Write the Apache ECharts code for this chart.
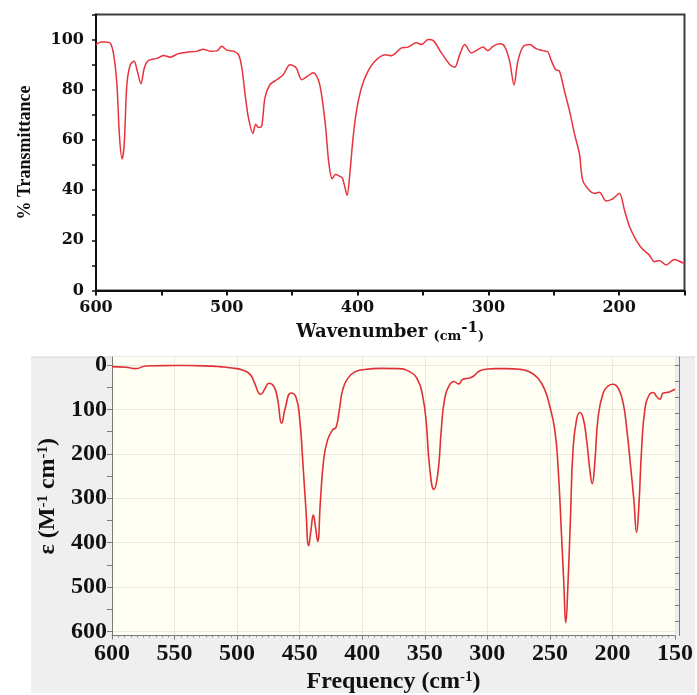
<!DOCTYPE html>
<html><head><meta charset="utf-8">
<script src="https://cdn.jsdelivr.net/npm/echarts@6/dist/echarts.min.js"></script>
<style>html,body{margin:0;padding:0;background:#fff}#c{width:697px;height:695px}</style>
</head><body><div id="c"></div><script>
// ---- Top panel: IR transmittance spectrum ----
const topWavenumber = [600,596,593,589,586.5,584,582,580,578.4,576.4,573.8,570.8,568.7,565.6,563,559.8,553.4,548.4,543.3,537,530.5,523,518,512.7,507.6,503.8,500,495,491,488.5,486,483.5,480,477.9,475.9,473.3,470.8,467,461.8,456.8,451.7,447,442.7,438,433.9,430,427.5,424.4,422,419.4,416.8,413.5,411.7,409.7,408,405.9,403.4,400.8,397,392,386.8,379,374,366.4,361.4,355,351.1,346,342.3,335.9,329.5,325.7,321.9,318,313,308,304,300.3,296.5,291.4,287.6,283.7,280.4,277.4,273.6,268.5,263.4,258.3,254.5,251.9,248.6,245.6,241.8,237.9,234.1,230.3,227.8,222.7,218.8,215,210,204.9,199.8,195.9,192,187,182,176.9,173,169.2,164.1,157.7,151.3,150];
const topTransmittance = [98,99,99,98.5,94,82,61,52.5,58.5,82,90,91.4,88,82.4,88.8,91.7,92.5,93.7,93,94.4,95,95.3,96.2,95.4,95.5,97.3,95.8,95.4,94,88.8,78.2,69,62.6,66.3,65,65.5,76.9,82,84,86,90,88.8,84,85.5,86.8,84,78,65,51,44.5,46.2,45.5,45,41.2,37.9,46.5,61,71.6,80.8,87.4,91.4,94,93.6,96.7,97,98.7,98,100,99.7,94.7,90.1,89,94,98,94.7,96,97,95.6,97.3,98.3,97.3,91.4,81.9,91.4,97,98,96.4,95.6,95.1,91.7,88.1,87.4,79.5,71.6,62.4,54.4,43.9,39.9,38.7,39.2,35.7,36.5,38.8,32,25.4,20.1,16.4,14.1,11.5,12,10.2,12.4,11,10.8];
const topXLabels = [600,500,400,300,200];
const topYLabels = [0,20,40,60,80,100];

// ---- Bottom panel: computed spectrum ----
const bottomFrequency = [600,589,581,573,560,540,520,514,504,496,490,486,483,481,478,474.5,470.5,467.6,464.4,461.5,457,453,450,447.6,445,442.8,440.9,439.1,437.5,435.6,433.5,430.8,427.6,423.6,420.9,418.3,415.6,411.6,406.2,398.2,385,371.6,362.2,355.6,351.6,348.8,346.2,342.7,339.5,336.8,334.2,330.2,326.7,323,319.5,315.5,311.5,306.2,299.5,294,284.8,274.1,266.1,259.5,254.1,250.1,246.1,243.5,240.8,238.9,237.3,235.5,233.5,231.5,228.7,226.1,223.4,220.7,218.1,216.2,214.1,211.4,207.4,203.4,199.4,195.4,191.4,188.2,185.5,182.9,180.7,178.9,176.7,174.1,170.6,167.4,164.7,162.1,159.4,156.7,154.1,150];
const bottomEpsilon = [3.7,5.2,8.2,2.2,1.5,1.2,2.5,3.7,6.7,11.2,20,41,62,66,54.5,41,48.6,78,131,97,63,72,120,213,325,407,370,338,362,397,310,213,168,146,140,101,56,30,16,10,7.5,8.2,15,34,71,131,228,280,243,146,78,45,37,42.6,32,30,26,13.4,9,8.2,8.2,9.7,15.7,30,56,93,146,228,377,489,580,489,340,190,123,107,120,168,235,267,220,116,63,47,43.3,52.3,86,153,228,303,377,318,190,101,67,62,71,77,63,62,60,54.5];
const bottomYLabels = [0,100,200,300,400,500,600];
const bottomYTicks = [0,50,100,150,200,250,300,350,400,450,500,550,600];
const bottomRightTicks = [0,36,72,108,144,180,216,252,288,324,360,396,432,468,504,540,576];

const topData = topWavenumber.map((x,i)=>[x, topTransmittance[i]]);
const bottomData = bottomFrequency.map((x,i)=>[x, bottomEpsilon[i]]);

const serifTop = "'DejaVu Serif', serif";
const serifBot = "'Liberation Serif', 'Times New Roman', serif";

const chart = echarts.init(document.getElementById('c'), null, {renderer:'canvas'});
chart.setOption({
  animation: false,
  backgroundColor: '#ffffff',
  graphic: [
    {type:'rect', z:-100, silent:true, shape:{x:31, y:357, width:664, height:336}, style:{fill:'#efefef'}},
    {type:'line', z:-99, silent:true, shape:{x1:31, y1:357, x2:695, y2:357}, style:{stroke:'#d4d4d4', lineWidth:1}}
  ],
  grid: [
    {left:96, top:14.5, right:12.5, height:276, show:true, borderColor:'#3c3c3c', borderWidth:2, backgroundColor:'#ffffff'},
    {left:112, top:357, right:22, height:280, show:true, borderWidth:0, backgroundColor:'#fffff3'}
  ],
  xAxis: [
    {gridIndex:0, type:'value', min:150, max:600, interval:50, inverse:true,
     axisLine:{show:true, onZero:false, lineStyle:{color:'#111', width:2}},
     axisTick:{show:true, length:5, lineStyle:{color:'#111', width:2}},
     axisLabel:{margin:9, color:'#111', fontFamily:serifTop, fontWeight:'bold', fontSize:16,
       formatter:v=> topXLabels.indexOf(v)>=0 ? String(v) : ''},
     splitLine:{show:false},
     name:'Wavenumber {s|(cm}{sup|-1}{s|)}', nameLocation:'middle', nameGap:30,
     nameTextStyle:{color:'#111', fontFamily:serifTop, fontWeight:'bold', fontSize:18,
       rich:{s:{fontFamily:serifTop, fontWeight:'bold', fontSize:13, color:'#111', verticalAlign:'bottom'},
             sup:{fontFamily:serifTop, fontWeight:'bold', fontSize:15, color:'#111', verticalAlign:'top', padding:[0,0,8,0]}}}
    },
    {gridIndex:1, type:'value', min:150, max:600, interval:50, inverse:true,
     axisLine:{show:true, onZero:false, lineStyle:{color:'#7a7a7a', width:1}},
     axisTick:{show:true, length:4, lineStyle:{color:'#7a7a7a'}},
     minorTick:{show:true, splitNumber:10, length:2, lineStyle:{color:'#8a8a8a'}},
     axisLabel:{margin:6, color:'#111', fontFamily:serifBot, fontWeight:'bold', fontSize:24},
     splitLine:{show:true, lineStyle:{color:'#e9e9dd', width:1}},
     name:'Frequency (cm{sup|-1})', nameLocation:'middle', nameGap:34,
     nameTextStyle:{color:'#111', fontFamily:serifBot, fontWeight:'bold', fontSize:24,
       rich:{sup:{fontFamily:serifBot, fontWeight:'bold', fontSize:15, color:'#111', verticalAlign:'top', padding:[0,0,10,0]}}}
    }
  ],
  yAxis: [
    {gridIndex:0, type:'value', min:0, max:110, interval:10,
     axisLine:{show:true, onZero:false, lineStyle:{color:'#111', width:2}},
     axisTick:{show:true, length:4, lineStyle:{color:'#111', width:1.5}},
     axisLabel:{margin:12, color:'#111', fontFamily:serifTop, fontWeight:'bold', fontSize:16,
       formatter:v=> topYLabels.indexOf(v)>=0 ? String(v) : ''},
     splitLine:{show:false},
     name:'% Transmittance', nameLocation:'middle', nameGap:62,
     nameTextStyle:{color:'#111', fontFamily:serifBot, fontWeight:'bold', fontSize:18}
    },
    {gridIndex:1, type:'value', min:-18, max:609, inverse:true,
     axisLine:{show:true, onZero:false, lineStyle:{color:'#7a7a7a', width:1}},
     axisTick:{show:true, length:5, lineStyle:{color:'#7a7a7a'}, customValues:bottomYTicks},
     axisLabel:{margin:5, color:'#111', fontFamily:serifBot, fontWeight:'bold', fontSize:24, customValues:bottomYLabels},
     splitLine:{show:false},
     name:'ε (M{sup|-1} cm{sup|-1})', nameLocation:'middle', nameGap:50,
     nameTextStyle:{color:'#111', fontFamily:serifBot, fontWeight:'bold', fontSize:24,
       rich:{sup:{fontFamily:serifBot, fontWeight:'bold', fontSize:15, color:'#111', verticalAlign:'top', padding:[0,0,10,0]}}}
    },
    {gridIndex:1, type:'value', min:-18, max:609, inverse:true, position:'right', offset:4,
     axisLine:{show:true, onZero:false, lineStyle:{color:'#7a7a7a', width:1}},
     axisTick:{show:true, inside:true, length:4, lineStyle:{color:'#7a7a7a'}, customValues:bottomRightTicks},
     axisLabel:{show:false},
     splitLine:{show:false}
    },
    {gridIndex:1, type:'value', min:-18, max:609, inverse:true, position:'left',
     axisLine:{show:false, onZero:false},
     axisTick:{show:false, customValues:bottomYLabels},
     axisLabel:{show:false, customValues:bottomYLabels},
     splitLine:{show:true, lineStyle:{color:'#e9e9dd', width:1}}
    }
  ],
  series: [
    {type:'line', xAxisIndex:0, yAxisIndex:0, data:topData, showSymbol:false, smooth:0.3,
     lineStyle:{color:'#e8323c', width:1.5}, z:5},
    {type:'line', xAxisIndex:1, yAxisIndex:1, data:bottomData, showSymbol:false, smooth:0.5,
     lineStyle:{color:'#df3036', width:1.6}, z:5}
  ]
});
</script></body></html>
